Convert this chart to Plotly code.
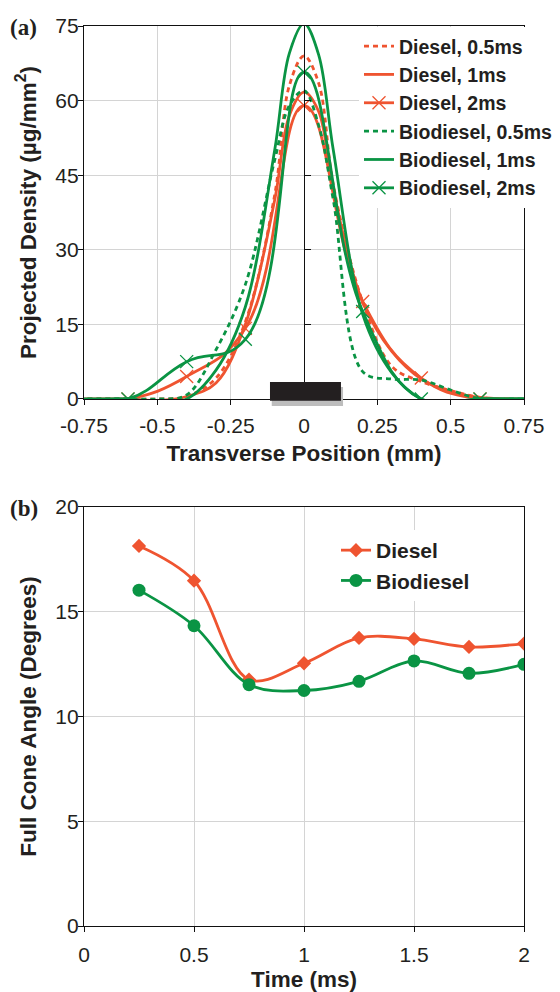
import plotly.graph_objects as go

# ---------- Data: panel (a) ----------
pos_fine = [-0.8, -0.7, -0.6, -0.5, -0.4, -0.3, -0.2, -0.1, -0.05, 0.0,
            0.05, 0.1, 0.2, 0.3, 0.4, 0.5, 0.6, 0.7, 0.8]
pos_coarse = [-0.8, -0.6, -0.4, -0.2, 0.0, 0.2, 0.4, 0.6, 0.8]
diesel_05 = [0, 0, 0, 0, 0.5, 4.2, 15.5, 41, 63, 69.0, 63.5, 43, 19.5, 6.5, 3.5, 1.7, 0.3, 0, 0]
diesel_1 = [0, 0, 0, -0.3, 0.5, 3.2, 15.0, 40, 57, 61.7, 57.8, 42, 19.5, 9.5, 4.0, 1.5, 0.3, 0, 0]
diesel_2 = [0, 0, 4.5, 14.2, 59.0, 19.6, 4.2, 0, 0]
bio_05 = [0, 0, 0, 0, 0.8, 9.9, 23.0, 48, 59, 62.0, 55, 40, 5.5, 4.0, 3.8, 1.8, 0, 0, 0]
bio_1 = [0, 0, 0, -0.6, 0, 5.8, 18.5, 50, 69.5, 75.5, 69.2, 50, 17.0, 5.2, 0, -0.8, 0, 0, 0]
bio_2 = [0, 0, 7.5, 12.0, 65.7, 17.6, 0, 0, 0]
names_a = ["Diesel, 0.5ms", "Diesel, 1ms", "Diesel, 2ms",
           "Biodiesel, 0.5ms", "Biodiesel, 1ms", "Biodiesel, 2ms"]

# ---------- Data: panel (b) ----------
time_ms = [0.25, 0.5, 0.75, 1.0, 1.25, 1.5, 1.75, 2.0]
cone_diesel = [18.14, 16.48, 11.76, 12.54, 13.75, 13.70, 13.32, 13.48]
cone_bio = [16.03, 14.33, 11.52, 11.24, 11.68, 12.65, 12.06, 12.49]

RED = "#EF5430"
GREEN = "#0A9444"
TXT = "#231F20"
GRID = "#D4D4D4"
FONT = "Liberation Sans"

fig = go.Figure()

series = [(pos_fine, diesel_05), (pos_fine, diesel_1), (pos_coarse, diesel_2),
          (pos_fine, bio_05), (pos_fine, bio_1), (pos_coarse, bio_2)]
colors = [RED, RED, RED, GREEN, GREEN, GREEN]
dashes = ["5px,4px", "solid", "solid", "5px,4px", "solid", "solid"]
for i, ((xs, vals), nm, c, d) in enumerate(zip(series, names_a, colors, dashes)):
    has_marker = nm.endswith("2ms")
    fig.add_trace(go.Scatter(
        x=xs, y=vals, name=nm, xaxis="x", yaxis="y", legendgroup=f"g{i}",
        mode="lines+markers" if has_marker else "lines",
        line=dict(color=c, width=2.8, dash=d, shape="spline",
                  smoothing=1.25 if has_marker else 1.0),
        marker=dict(symbol="x-thin", size=13, line=dict(color=c, width=1.3)),
        legend="legend",
    ))

fig.add_trace(go.Scatter(
    x=time_ms, y=cone_diesel, name="Diesel", xaxis="x2", yaxis="y2",
    mode="lines+markers", legendgroup="b1",
    line=dict(color=RED, width=2.8, shape="spline", smoothing=1.0),
    marker=dict(symbol="diamond", size=11, color=RED),
    legend="legend2",
))
fig.add_trace(go.Scatter(
    x=time_ms, y=cone_bio, name="Biodiesel", xaxis="x2", yaxis="y2",
    mode="lines+markers", legendgroup="b2",
    line=dict(color=GREEN, width=2.8, shape="spline", smoothing=1.0),
    marker=dict(symbol="circle", size=13, color=GREEN),
    legend="legend2",
))

# zero line with inward ticks at x=0 (panel a)
fig.add_trace(go.Scatter(x=[0], y=[0], xaxis="x", yaxis="y3", mode="markers",
                         marker=dict(opacity=0), showlegend=False, hoverinfo="skip"))

tickfont = dict(family=FONT, size=21, color=TXT)
titlefont = dict(family=FONT, size=22.5, color=TXT, weight="bold")

axis_common = dict(
    showline=True, linecolor="#111111", linewidth=1.3, mirror=True,
    showgrid=True, gridcolor=GRID, gridwidth=1, automargin=False,
    ticks="outside", ticklen=5, tickcolor="#111111", tickwidth=1,
    tickfont=tickfont, zeroline=False,
)

fig.update_layout(
    width=560, height=992,
    margin=dict(l=84, r=36, t=26, b=66, autoexpand=False),
    paper_bgcolor="white", plot_bgcolor="white",
    xaxis=dict(axis_common, domain=[0, 1], anchor="y", range=[-0.75, 0.75],
               tickvals=[-0.75, -0.5, -0.25, 0, 0.25, 0.5, 0.75],
               ticktext=["-0.75", "-0.5", "-0.25", "0", "0.25", "0.5", "0.75"],
               ticklabelstandoff=3,
               title=dict(text="Transverse Position (mm)", font=titlefont, standoff=8)),
    yaxis=dict(axis_common, domain=[0.5856, 1.0], anchor="x", range=[0, 75],
               tickvals=[0, 15, 30, 45, 60, 75], ticklabelstandoff=-5,
               title=dict(text="Projected Density (µg/mm<sup>2</sup>)", font=titlefont, standoff=12)),
    yaxis3=dict(overlaying="y", anchor="free", position=0.5, side="left",
                range=[0, 75], tickvals=[0, 15, 30, 45, 60, 75], automargin=False,
                showline=True, linecolor="#111111", linewidth=1.3,
                ticks="inside", ticklen=6, tickcolor="#111111",
                showticklabels=False, showgrid=False, zeroline=False),
    xaxis2=dict(axis_common, domain=[0, 1], anchor="y2", range=[0, 2],
                tickvals=[0, 0.5, 1, 1.5, 2], ticktext=["0", "0.5", "1", "1.5", "2"],
                ticklabelstandoff=5,
                title=dict(text="Time (ms)", font=titlefont, standoff=6)),
    yaxis2=dict(axis_common, domain=[0, 0.4656], anchor="x2", range=[0, 20],
                tickvals=[0, 5, 10, 15, 20], ticklabelstandoff=-5,
                title=dict(text="Full Cone Angle (Degrees)", font=titlefont, standoff=12)),
    legend=dict(x=0.625, y=0.999, xanchor="left", yanchor="top",
                bgcolor="white", borderwidth=0, traceorder="grouped",
                font=dict(family=FONT, size=19.5, color=TXT, weight="bold"),
                itemwidth=30, tracegroupgap=0),
    legend2=dict(x=0.5727, y=0.44, xanchor="left", yanchor="top",
                 bgcolor="white", borderwidth=0, traceorder="grouped",
                 font=dict(family=FONT, size=21, color=TXT, weight="bold"),
                 itemwidth=30, tracegroupgap=0),
    showlegend=True,
)

# nozzle indicator bar (shadow + black bar)
fig.add_shape(type="rect", xref="x domain", yref="y domain",
              x0=0.4267, x1=0.5887, y0=-0.019, y1=0.032,
              fillcolor="#BDBDBD", line=dict(width=0), layer="above")
fig.add_shape(type="rect", xref="x domain", yref="y domain",
              x0=0.4227, x1=0.584, y0=-0.005, y1=0.0453,
              fillcolor="#231F20", line=dict(width=0), layer="above")

panel_font = dict(family="Liberation Serif", size=23, color=TXT, weight="bold")
fig.add_annotation(text="(a)", xref="paper", yref="paper", x=-0.172, y=0.9978,
                   xanchor="left", yanchor="middle", showarrow=False, font=panel_font)
fig.add_annotation(text="(b)", xref="paper", yref="paper", x=-0.172, y=0.4644,
                   xanchor="left", yanchor="middle", showarrow=False, font=panel_font)

fig.write_html("out.html")
